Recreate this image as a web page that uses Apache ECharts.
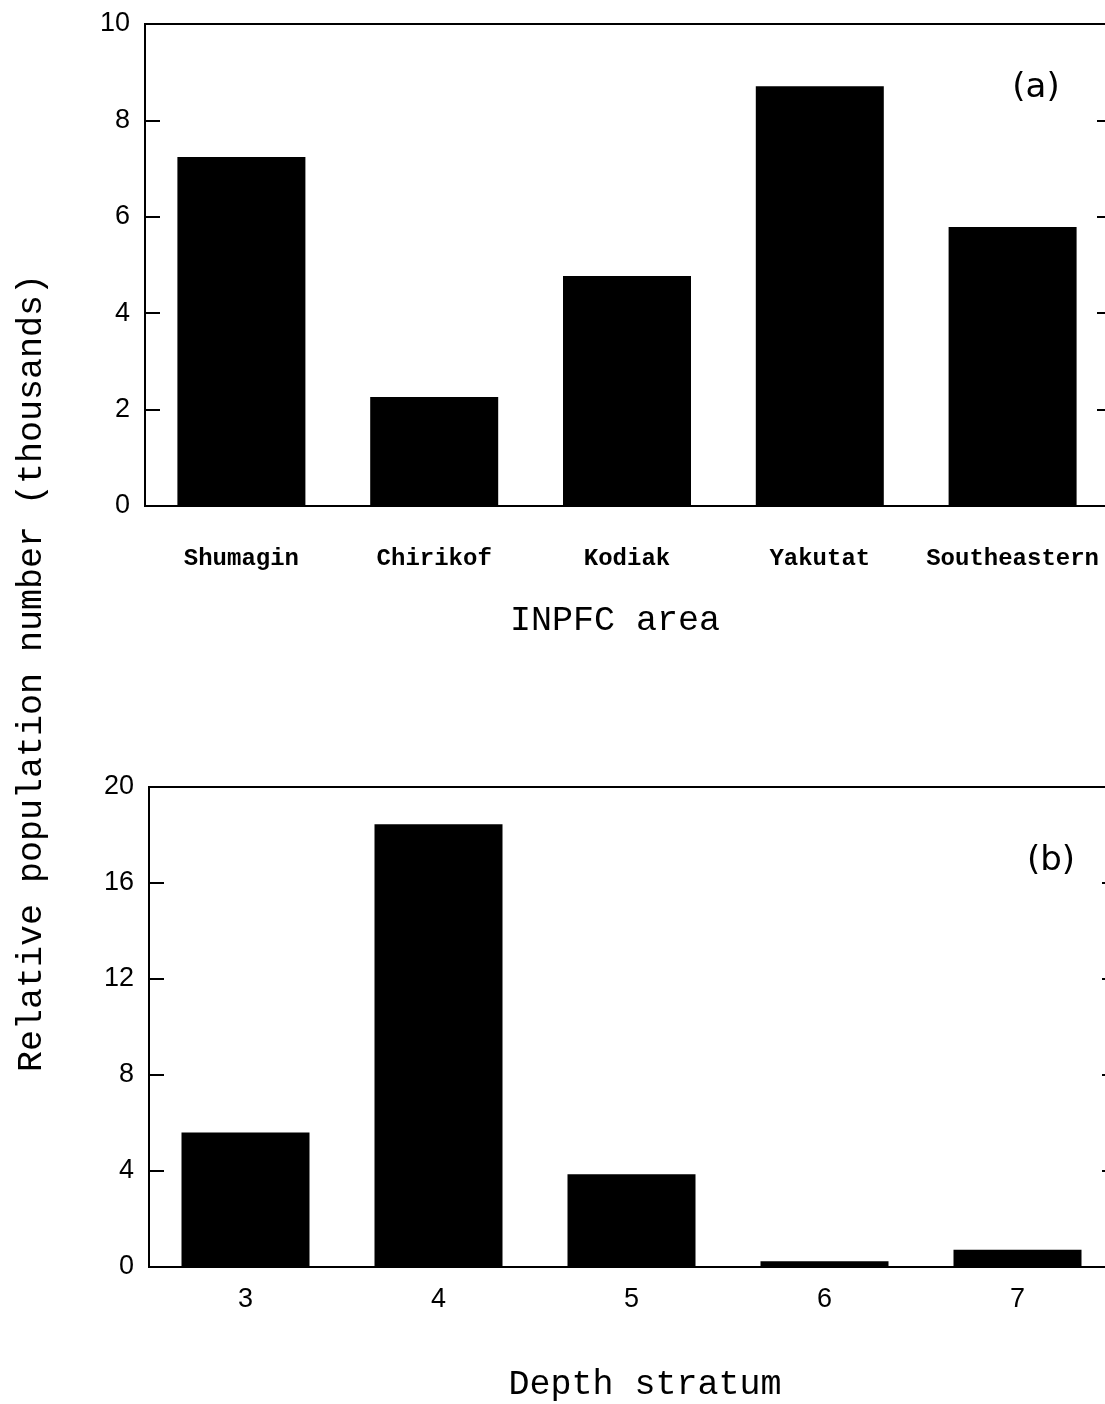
<!DOCTYPE html>
<html>
<head>
<meta charset="utf-8">
<script src="https://cdn.jsdelivr.net/npm/echarts@6/dist/echarts.min.js"></script>
<style>
html,body{margin:0;padding:0;background:#fff;overflow:hidden;width:1105px;height:1404px;}
#chart{width:1130px;height:1404px;}
</style>
</head>
<body>
<div id="chart"></div>
<script>
// Panel (a): INPFC area
const areaNames = ['Shumagin', 'Chirikof', 'Kodiak', 'Yakutat', 'Southeastern'];
const areaValues = [7.24, 2.26, 4.77, 8.71, 5.79];
// Panel (b): depth stratum
const depthStrata = ['3', '4', '5', '6', '7'];
const depthValues = [5.6, 18.45, 3.86, 0.24, 0.72];
// Axis ranges
const areaAxis = { min: 0, max: 10, interval: 2 };
const depthAxis = { min: 0, max: 20, interval: 4 };

const monoFont = '"Liberation Mono", "DejaVu Sans Mono", monospace';
const sansFont = '"Liberation Sans", Arial, sans-serif';
const labelFont = '"DejaVu Sans", "Liberation Sans", sans-serif';

const chart = echarts.init(document.getElementById('chart'), null, { renderer: 'canvas' });

function yAxisLeft(gridIndex, range) {
  return {
    type: 'value', gridIndex: gridIndex, position: 'left',
    min: range.min, max: range.max, interval: range.interval,
    axisLine: { show: true, lineStyle: { color: '#000', width: 2 } },
    axisTick: { show: true, inside: true, length: 15, lineStyle: { color: '#000', width: 2 } },
    axisLabel: { show: true, margin: 15, color: '#000', fontSize: 27, fontFamily: sansFont },
    splitLine: { show: false }
  };
}
function yAxisRight(gridIndex, range) {
  return {
    type: 'value', gridIndex: gridIndex, position: 'right',
    min: range.min, max: range.max, interval: range.interval,
    axisLine: { show: true, lineStyle: { color: '#000', width: 2 } },
    axisTick: { show: true, inside: true, length: 12, lineStyle: { color: '#000', width: 2 } },
    axisLabel: { show: false },
    splitLine: { show: false }
  };
}

const option = {
  backgroundColor: '#fff',
  animation: false,
  grid: [
    { left: 145, top: 24, width: 964, height: 482, show: true, borderColor: '#000', borderWidth: 2, backgroundColor: 'transparent' },
    { left: 149, top: 787, width: 965, height: 480, show: true, borderColor: '#000', borderWidth: 2, backgroundColor: 'transparent' }
  ],
  xAxis: [
    {
      type: 'category', gridIndex: 0, data: areaNames,
      axisLine: { show: true, lineStyle: { color: '#000', width: 2 } },
      axisTick: { show: false },
      axisLabel: { interval: 0, margin: 41, color: '#000', fontSize: 24, fontWeight: 'bold', fontFamily: monoFont }
    },
    {
      type: 'category', gridIndex: 1, data: depthStrata,
      axisLine: { show: true, lineStyle: { color: '#000', width: 2 } },
      axisTick: { show: false },
      axisLabel: { interval: 0, margin: 19, color: '#000', fontSize: 27, fontFamily: sansFont }
    }
  ],
  yAxis: [
    yAxisLeft(0, areaAxis),
    yAxisRight(0, areaAxis),
    yAxisLeft(1, depthAxis),
    yAxisRight(1, depthAxis)
  ],
  series: [
    {
      type: 'bar', xAxisIndex: 0, yAxisIndex: 0, data: areaValues,
      barWidth: 128, itemStyle: { color: '#000' }
    },
    {
      type: 'bar', xAxisIndex: 1, yAxisIndex: 2, data: depthValues,
      barWidth: 128, itemStyle: { color: '#000' }
    }
  ],
  graphic: [
    { type: 'text', x: 1036, y: 88, style: { text: '(a)', font: '34px ' + labelFont, fill: '#000', textAlign: 'center', textVerticalAlign: 'middle' } },
    { type: 'text', x: 1051, y: 861, style: { text: '(b)', font: '34px ' + labelFont, fill: '#000', textAlign: 'center', textVerticalAlign: 'middle' } },
    { type: 'text', x: 615, y: 621, style: { text: 'INPFC area', font: '35px ' + monoFont, fill: '#000', textAlign: 'center', textVerticalAlign: 'middle' } },
    { type: 'text', x: 645, y: 1385, style: { text: 'Depth stratum', font: '35px ' + monoFont, fill: '#000', textAlign: 'center', textVerticalAlign: 'middle' } },
    { type: 'text', x: 32, y: 673, rotation: Math.PI / 2, style: { text: 'Relative population number (thousands)', font: '35px ' + monoFont, fill: '#000', textAlign: 'center', textVerticalAlign: 'middle' } }
  ]
};
chart.setOption(option);
</script>
</body>
</html>
